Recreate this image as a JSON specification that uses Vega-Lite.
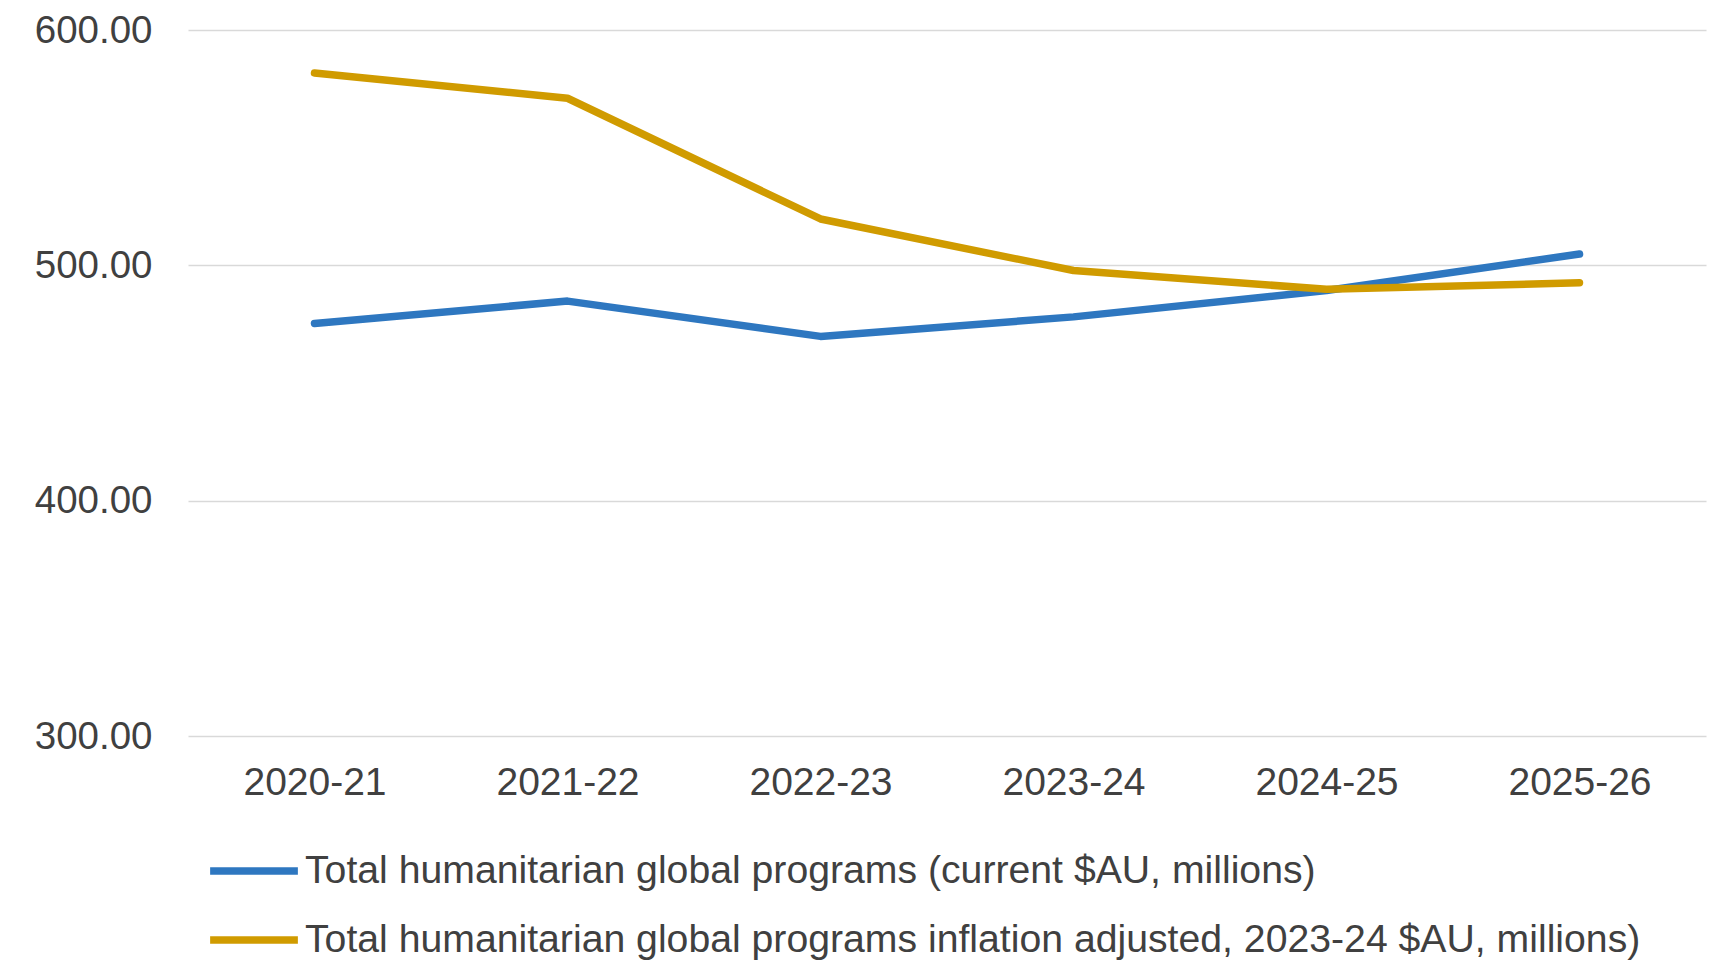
{
  "$schema": "https://vega.github.io/schema/vega-lite/v6.json",
  "width": 1518,
  "height": 706,
  "autosize": {"type": "none"},
  "padding": {"left": 188, "top": 30, "right": 4, "bottom": 231},
  "background": "white",
  "config": {
    "view": {"stroke": null},
    "font": "Liberation Sans",
    "axis": {"labelFont": "Liberation Sans", "labelColor": "#404040"},
    "legend": {"labelFont": "Liberation Sans"}
  },
  "data": {
    "values": [
      {"year": "2020-21", "series": "Total humanitarian global programs (current $AU, millions)", "value": 475.3},
      {"year": "2021-22", "series": "Total humanitarian global programs (current $AU, millions)", "value": 484.8},
      {"year": "2022-23", "series": "Total humanitarian global programs (current $AU, millions)", "value": 469.8},
      {"year": "2023-24", "series": "Total humanitarian global programs (current $AU, millions)", "value": 478.1},
      {"year": "2024-25", "series": "Total humanitarian global programs (current $AU, millions)", "value": 489.3},
      {"year": "2025-26", "series": "Total humanitarian global programs (current $AU, millions)", "value": 504.8},
      {"year": "2020-21", "series": "Total humanitarian global programs inflation adjusted, 2023-24 $AU, millions)", "value": 581.7},
      {"year": "2021-22", "series": "Total humanitarian global programs inflation adjusted, 2023-24 $AU, millions)", "value": 571.0},
      {"year": "2022-23", "series": "Total humanitarian global programs inflation adjusted, 2023-24 $AU, millions)", "value": 519.7},
      {"year": "2023-24", "series": "Total humanitarian global programs inflation adjusted, 2023-24 $AU, millions)", "value": 497.8},
      {"year": "2024-25", "series": "Total humanitarian global programs inflation adjusted, 2023-24 $AU, millions)", "value": 489.8},
      {"year": "2025-26", "series": "Total humanitarian global programs inflation adjusted, 2023-24 $AU, millions)", "value": 492.6}
    ]
  },
  "mark": {"type": "line", "strokeWidth": 7.5, "strokeCap": "round", "strokeJoin": "round"},
  "encoding": {
    "x": {
      "field": "year", "type": "ordinal",
      "scale": {"type": "point", "padding": 0.5},
      "axis": {"title": null, "labelAngle": 0, "ticks": false, "domain": false, "grid": false, "labelFontSize": 39, "labelPadding": 27, "labelColor": "#404040"}
    },
    "y": {
      "field": "value", "type": "quantitative",
      "scale": {"domain": [300, 600], "zero": false, "nice": false},
      "axis": {"title": null, "values": [300, 400, 500, 600], "format": ".2f", "ticks": false, "domain": false, "gridColor": "#d9d9d9", "gridWidth": 1.5, "labelFontSize": 38.5, "labelPadding": 36, "labelColor": "#404040"}
    },
    "color": {
      "field": "series", "type": "nominal",
      "scale": {"range": ["#2E77C0", "#D09B00"]},
      "legend": {
        "title": null, "orient": "none", "legendX": 18, "legendY": 793,
        "direction": "vertical", "symbolType": "stroke", "symbolSize": 7700,
        "symbolStrokeWidth": 7.5, "labelFontSize": 39.2, "labelColor": "#404040",
        "rowPadding": -7, "labelOffset": 3, "padding": 0, "labelLimit": 0
      }
    }
  }
}
